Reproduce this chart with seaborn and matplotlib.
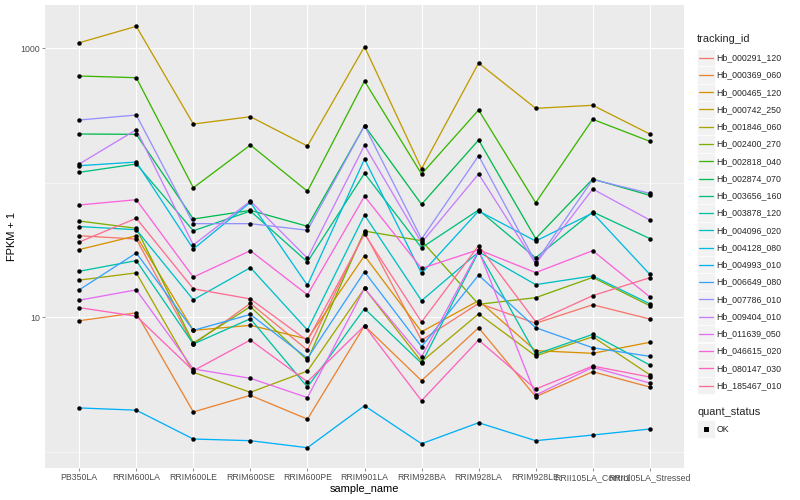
import matplotlib
matplotlib.use("Agg")
import matplotlib.pyplot as plt
import seaborn as sns
import pandas as pd
from matplotlib.patches import Rectangle
from matplotlib.lines import Line2D
from matplotlib.ticker import FixedLocator, NullFormatter

samples = ["PB350LA", "RRIM600LA", "RRIM600LE", "RRIM600SE", "RRIM600PE", "RRIM901LA",
           "RRIM928BA", "RRIM928LA", "RRIM928LE", "RRII105LA_Control", "RRII105LA_Stressed"]

tracking_ids = ["Hb_000291_120", "Hb_000369_060", "Hb_000465_120", "Hb_000742_250",
                "Hb_001846_060", "Hb_002400_270", "Hb_002818_040", "Hb_002874_070",
                "Hb_003656_160", "Hb_003878_120", "Hb_004096_020", "Hb_004128_080",
                "Hb_004993_010", "Hb_006649_080", "Hb_007786_010", "Hb_009404_010",
                "Hb_011639_050", "Hb_046615_020", "Hb_080147_030", "Hb_185467_010"]

colors = ["#F8766D", "#EA8331", "#D89000", "#C09B00", "#A3A500", "#7CAE00", "#39B600",
          "#00BB4E", "#00BF7D", "#00C1A3", "#00BFC4", "#00BAE0", "#00B0F6", "#35A2FF",
          "#9590FF", "#C77CFF", "#E76BF3", "#FA62DB", "#FF62BC", "#FF6C91"]

# FPKM + 1 per sample
hb_000291_120 = [40.4, 38.2, 6.30, 12.7, 5.71, 42.9, 6.75, 12.7, 9.03, 12.4, 9.71]
hb_000369_060 = [9.43, 10.8, 1.98, 2.63, 1.75, 8.66, 3.38, 8.37, 2.57, 3.94, 3.03]
hb_000465_120 = [31.9, 40.4, 8.00, 8.72, 6.90, 28.7, 7.81, 13.3, 5.65, 5.40, 6.52]
hb_000742_250 = [1100, 1457, 273.6, 310, 187.7, 1028, 127.3, 777.5, 358, 377, 230.6]
hb_001846_060 = [18.9, 21.4, 3.90, 2.77, 3.99, 16.4, 4.68, 10.6, 5.16, 7.17, 3.74]
hb_002400_270 = [52.0, 45.9, 6.44, 12.0, 4.79, 43.8, 37.1, 12.5, 14.0, 19.8, 12.2]
hb_002818_040 = [622.5, 604.6, 91.9, 191, 86.5, 571, 116.3, 347.8, 71.1, 296.6, 203.5]
hb_002874_070 = [230.6, 229.4, 53.8, 62.4, 47.5, 265.8, 69.2, 208, 38.5, 106.7, 80.7]
hb_003656_160 = [119.7, 138, 44.0, 61.7, 25.8, 117.6, 32.9, 62.8, 27.7, 60.7, 38.5]
hb_003878_120 = [22.0, 26.4, 6.33, 9.76, 3.03, 11.6, 4.55, 30.7, 5.31, 7.47, 4.42]
hb_004096_020 = [47.3, 44.8, 13.5, 23.4, 8.04, 57.6, 13.3, 30.6, 17.5, 20.3, 12.6]
hb_004128_080 = [134, 142.7, 32.2, 71.6, 17.3, 150.3, 21.2, 61.7, 36.9, 59.6, 20.9]
hb_004993_010 = [2.12, 2.04, 1.245, 1.21, 1.073, 2.20, 1.149, 1.646, 1.21, 1.333, 1.477]
hb_006649_080 = [16.0, 30.1, 8.00, 10.5, 4.96, 21.8, 6.05, 20.6, 8.37, 5.94, 5.13]
hb_007786_010 = [293, 319.2, 49.7, 49.7, 44.4, 265.8, 38.2, 159, 25.6, 105.8, 83.5]
hb_009404_010 = [138, 248.2, 34.5, 73.2, 27.5, 190, 35.9, 116.3, 25.0, 89.9, 52.9]
hb_011639_050 = [13.4, 16.0, 4.13, 3.52, 2.53, 16.4, 5.09, 31.4, 2.64, 4.25, 3.25]
hb_046615_020 = [68.4, 74.9, 19.9, 31.3, 14.7, 79.4, 23.1, 31.8, 21.5, 31.3, 14.2]
hb_080147_030 = [11.8, 10.2, 4.01, 6.78, 3.32, 8.66, 2.40, 6.78, 2.93, 4.34, 3.60]
hb_185467_010 = [36.3, 54.5, 16.3, 13.7, 6.70, 41.6, 9.23, 34.1, 9.27, 14.5, 19.7]

series = [hb_000291_120, hb_000369_060, hb_000465_120, hb_000742_250, hb_001846_060,
          hb_002400_270, hb_002818_040, hb_002874_070, hb_003656_160, hb_003878_120,
          hb_004096_020, hb_004128_080, hb_004993_010, hb_006649_080, hb_007786_010,
          hb_009404_010, hb_011639_050, hb_046615_020, hb_080147_030, hb_185467_010]

rows = []
for tid, vals in zip(tracking_ids, series):
    for s, v in zip(samples, vals):
        rows.append({"tracking_id": tid, "sample_name": s, "fpkm1": v, "quant_status": "OK"})
df = pd.DataFrame(rows)
df["sample_name"] = pd.Categorical(df["sample_name"], categories=samples, ordered=True)
df["x"] = df["sample_name"].cat.codes

sns.set_theme(style="darkgrid")
plt.rcParams["font.family"] = ["Liberation Sans", "DejaVu Sans"]

fig = plt.figure(figsize=(800 / 72, 500 / 72), dpi=72)
ax = fig.add_axes([45 / 800, 32 / 500, (684 - 45) / 800, (468 - 5) / 500])
ax.set_facecolor("#EBEBEB")

sns.lineplot(data=df, x="x", y="fpkm1", hue="tracking_id", hue_order=tracking_ids,
             palette=dict(zip(tracking_ids, colors)), estimator=None, errorbar=None,
             sort=False, linewidth=1.3, legend=False, ax=ax, zorder=2)
sns.scatterplot(data=df, x="x", y="fpkm1", color="black", s=20, linewidth=0,
                legend=False, ax=ax, zorder=3)

ax.set_yscale("log")
ax.set_ylim(0.7581, 2099)
ax.set_xlim(-0.6, 10.6)
ax.yaxis.set_major_locator(FixedLocator([10, 1000]))
ax.yaxis.set_minor_locator(FixedLocator([1, 100]))
ax.yaxis.set_minor_formatter(NullFormatter())
ax.set_yticklabels(["10", "1000"])
ax.set_xticks(range(len(samples)))
ax.set_xticklabels(samples)

ax.grid(which="major", color="white", linewidth=1.1)
ax.grid(which="minor", axis="y", color="white", linewidth=0.55)
ax.grid(which="minor", axis="x", visible=False)
ax.set_axisbelow(True)
for sp in ax.spines.values():
    sp.set_visible(False)
ax.tick_params(axis="both", which="major", length=2.75, width=0.55, color="#333333",
               labelcolor="#4D4D4D", labelsize=8.8, pad=2, left=True, bottom=True)
ax.tick_params(axis="both", which="minor", length=0)
ax.set_xlabel("sample_name", fontsize=11, color="black", labelpad=2)
ax.set_ylabel("FPKM + 1", fontsize=11, color="black", labelpad=4)

# legend drawn in pixel coordinates
lax = fig.add_axes([0, 0, 1, 1])
lax.set_xlim(0, 800)
lax.set_ylim(500, 0)
lax.axis("off")
lax.text(697, 39, "tracking_id", fontsize=11, ha="left", va="center")
for i, (tid, c) in enumerate(zip(tracking_ids, colors)):
    yc = 57.7 + i * 17.26
    lax.add_patch(Rectangle((697.3, yc - 8.6), 17.2, 17.2, facecolor="#F2F2F2",
                            edgecolor="white", linewidth=0.6))
    lax.add_line(Line2D([699, 712.8], [yc, yc], color=c, linewidth=1.3))
    lax.text(716.7, yc, tid, fontsize=8.8, ha="left", va="center")
lax.text(697, 412, "quant_status", fontsize=11, ha="left", va="center")
lax.add_patch(Rectangle((697.3, 420.4), 17.2, 17.2, facecolor="#F2F2F2",
                        edgecolor="white", linewidth=0.6))
lax.scatter([706], [429], s=12, color="black", marker="s")
lax.text(716.7, 429, "OK", fontsize=8.8, ha="left", va="center")

fig.savefig("out.png", dpi=72)
